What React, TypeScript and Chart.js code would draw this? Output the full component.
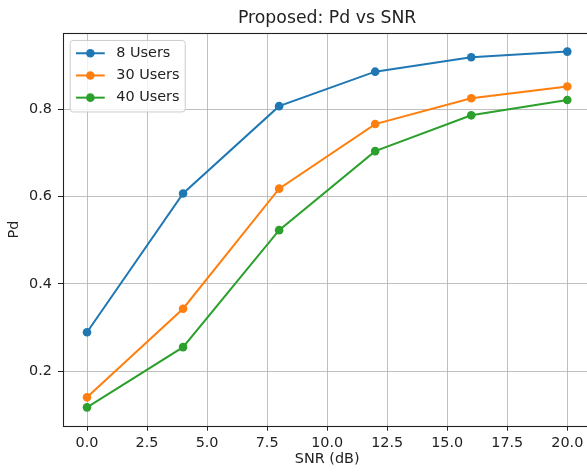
import { useEffect, useRef } from "react";
import { Chart, registerables } from "chart.js";

Chart.register(...registerables);

// SNR sweep (dB) and detection probability per user count
const snrDb = [0, 4, 8, 12, 16, 20];
const pd8Users = [0.289, 0.607, 0.807, 0.886, 0.919, 0.932];
const pd30Users = [0.14, 0.343, 0.618, 0.766, 0.825, 0.852];
const pd40Users = [0.117, 0.255, 0.523, 0.704, 0.786, 0.821];

const seriesLabels = ["8 Users", "30 Users", "40 Users"];
const seriesColors = ["#1f77b4", "#ff7f0e", "#2ca02c"];

const xTickValues = [0, 2.5, 5, 7.5, 10, 12.5, 15, 17.5, 20];
const yTickValues = [0.2, 0.4, 0.6, 0.8];

const FONT_FAMILY = "'DejaVu Sans', 'Liberation Sans', sans-serif";
const TEXT_COLOR = "#222";
const LABEL_SIZE = 14.4;

// Draws all four spines of the axes box on top of the lines.
const axesFramePlugin = {
  id: "axesFrame",
  afterDatasetsDraw(chart: any) {
    const { ctx, chartArea } = chart;
    const l = Math.round(chartArea.left) + 0.5;
    const r = Math.round(chartArea.right) + 0.5;
    const t = Math.round(chartArea.top) + 0.5;
    const b = Math.round(chartArea.bottom) + 0.5;
    ctx.save();
    ctx.strokeStyle = "#222";
    ctx.lineWidth = 1.1;
    ctx.strokeRect(l, t, r - l, b - t);
    ctx.restore();
  },
};

// Inset legend in the upper-left corner: framed box with line + marker handles.
const insetLegendPlugin = {
  id: "insetLegend",
  afterDraw(chart: any) {
    const { ctx, chartArea } = chart;
    const fs = LABEL_SIZE;
    const datasets = chart.data.datasets;
    ctx.save();
    ctx.font = `${fs}px ${FONT_FAMILY}`;
    const textW = Math.max(
      ...datasets.map((d: any) => ctx.measureText(d.label).width)
    );
    const left = chartArea.left + 0.5 * fs;
    const top = chartArea.top + 0.5 * fs;
    const pad = 0.4 * fs;
    const handleLen = 2 * fs;
    const gap = 0.8 * fs;
    const rowStep = 22.2;
    const firstRow = 12.8;
    const width = pad + handleLen + gap + textW + pad;
    const height = firstRow + rowStep * (datasets.length - 1) + 14.3;

    ctx.beginPath();
    ctx.roundRect(left, top, width, height, 3);
    ctx.fillStyle = "rgba(255,255,255,0.8)";
    ctx.fill();
    ctx.strokeStyle = "#cccccc";
    ctx.lineWidth = 1;
    ctx.stroke();

    datasets.forEach((d: any, i: number) => {
      const y = top + firstRow + i * rowStep;
      const x0 = left + pad;
      const x1 = x0 + handleLen;
      ctx.beginPath();
      ctx.moveTo(x0, y);
      ctx.lineTo(x1, y);
      ctx.strokeStyle = d.borderColor;
      ctx.lineWidth = d.borderWidth;
      ctx.stroke();
      ctx.beginPath();
      ctx.arc((x0 + x1) / 2, y, d.pointRadius, 0, Math.PI * 2);
      ctx.fillStyle = d.backgroundColor;
      ctx.fill();
      ctx.fillStyle = TEXT_COLOR;
      ctx.textAlign = "left";
      ctx.textBaseline = "middle";
      ctx.fillText(d.label, x1 + gap, y);
    });
    ctx.restore();
  },
};

export default function App() {
  const canvasRef = useRef<HTMLCanvasElement>(null);

  useEffect(() => {
    const canvas = canvasRef.current;
    if (!canvas) return;
    const series = [pd8Users, pd30Users, pd40Users];
    const labelFont = { family: FONT_FAMILY, size: LABEL_SIZE, weight: "normal" as const };

    const chart = new Chart(canvas, {
      type: "line",
      data: {
        datasets: series.map((vals, i) => ({
          label: seriesLabels[i],
          data: snrDb.map((x, j) => ({ x, y: vals[j] })),
          borderColor: seriesColors[i],
          backgroundColor: seriesColors[i],
          borderWidth: 2,
          pointRadius: 4.3,
          pointHoverRadius: 4.3,
          pointBorderWidth: 0,
          tension: 0,
          fill: false,
        })),
      },
      options: {
        responsive: false,
        animation: false,
        devicePixelRatio: 1,
        events: [],
        layout: { padding: { left: 0, right: 8.7, top: 0, bottom: 0 } },
        plugins: {
          legend: { display: false },
          tooltip: { enabled: false },
          title: {
            display: true,
            text: "Proposed: Pd vs SNR",
            fullSize: false,
            color: TEXT_COLOR,
            font: { family: FONT_FAMILY, size: 17.3, weight: "normal" },
            padding: { top: 8.6, bottom: 3.9 },
          },
        },
        scales: {
          x: {
            type: "linear",
            min: -1,
            max: 21,
            afterBuildTicks: (scale: any) => {
              scale.ticks = xTickValues.map((value) => ({ value }));
            },
            afterFit: (scale: any) => {
              scale.height = 47.3;
            },
            ticks: {
              callback: (v: any) => Number(v).toFixed(1),
              color: TEXT_COLOR,
              font: labelFont,
              padding: 4,
              maxRotation: 0,
              autoSkip: false,
            },
            grid: {
              color: "#b0b0b0",
              lineWidth: 0.8,
              tickLength: 5,
              tickColor: "#222",
              tickWidth: 1,
            },
            border: { display: false },
            title: {
              display: true,
              text: "SNR (dB)",
              color: TEXT_COLOR,
              font: labelFont,
              padding: { top: 0, bottom: 4.7 },
            },
          },
          y: {
            type: "linear",
            min: 0.075,
            max: 0.974,
            afterBuildTicks: (scale: any) => {
              scale.ticks = yTickValues.map((value) => ({ value }));
            },
            afterFit: (scale: any) => {
              scale.width = 63;
            },
            ticks: {
              callback: (v: any) => Number(v).toFixed(1),
              color: TEXT_COLOR,
              font: labelFont,
              padding: 6,
              autoSkip: false,
            },
            grid: {
              color: "#b0b0b0",
              lineWidth: 0.8,
              tickLength: 5,
              tickColor: "#222",
              tickWidth: 1,
            },
            border: { display: false },
            title: {
              display: true,
              text: "Pd",
              color: TEXT_COLOR,
              font: labelFont,
              padding: { top: 5.4, bottom: 0 },
            },
          },
        },
      },
      plugins: [axesFramePlugin, insetLegendPlugin],
    });

    return () => chart.destroy();
  }, []);

  return (
    <div
      style={{
        position: "fixed",
        left: 0,
        top: 0,
        width: 600,
        height: 473,
        overflow: "hidden",
        background: "#fff",
      }}
    >
      <canvas ref={canvasRef} width={600} height={473} style={{ display: "block" }} />
    </div>
  );
}
